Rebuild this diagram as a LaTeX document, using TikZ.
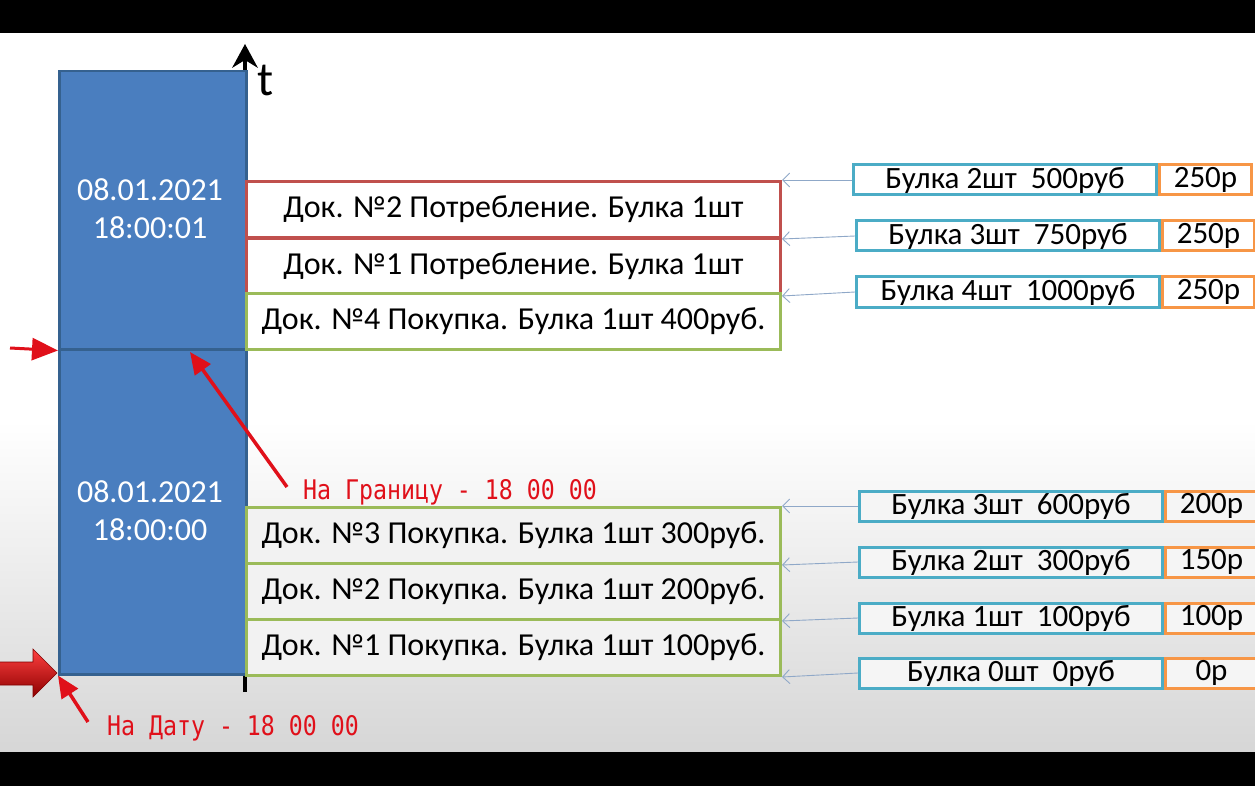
\documentclass[tikz,border=0pt]{standalone}
\usepackage{fontspec}
\setmainfont{Carlito}
\newfontfamily\redmono{DejaVu Sans Mono}
\usetikzlibrary{arrows.meta}
\definecolor{bluefill}{HTML}{4A7EBF}
\definecolor{blueedge}{HTML}{35618F}
\definecolor{redb}{HTML}{C0504D}
\definecolor{greenb}{HTML}{9BBB59}
\definecolor{cyanb}{HTML}{4BACC6}
\definecolor{orangeb}{HTML}{F79646}
\definecolor{connc}{HTML}{8FA8C8}
\definecolor{labred}{HTML}{E0101A}
\tikzset{
  bluecell/.style={draw=blueedge, line width=2.5pt, fill=bluefill, minimum width=187pt, anchor=north west, inner sep=0pt},
  datetext/.style={text=white, font=\fontsize{32}{36}\selectfont, align=center},
  docbox/.style={line width=3pt, minimum width=534pt, minimum height=56pt, anchor=north west, inner sep=0pt, font=\fontsize{32}{36}\selectfont},
  docred/.style={docbox, draw=redb, fill=white},
  docgreen/.style={docbox, draw=greenb, fill=white},
  docgreenlow/.style={docbox, draw=greenb, fill=black!5},
  qbox/.style={draw=cyanb, line width=3pt, minimum width=303pt, minimum height=30pt, anchor=west, inner sep=0pt, font=\fontsize{31}{32}\selectfont},
  pbox/.style={draw=orangeb, line width=3pt, minimum width=92pt, minimum height=30pt, anchor=west, inner sep=0pt, font=\fontsize{31}{32}\selectfont},
  conn/.style={draw=connc, line width=0.9pt, -{Straight Barb[length=7pt,width=14pt]}},
  redarrow/.style={draw=labred, line width=3.5pt, -{Triangle[length=22pt,width=19pt]}},
  redlabel/.style={text=labred, anchor=west, inner sep=0pt, font=\redmono\fontsize{27}{30}\selectfont},
}
\begin{document}
\begin{tikzpicture}[x=1pt,y=-1pt]
\useasboundingbox (0,0) rectangle (1255,786);
\fill[white] (0,0) rectangle (1255,786);
\shade[top color=white, bottom color=black!16] (0,420) rectangle (1255,752);
\fill[black] (0,0) rectangle (1255,33);
\fill[black] (0,752) rectangle (1255,786);

% time axis
\coordinate (axbot) at (245,692);
\coordinate (axtop) at (245,44);
\draw[line width=4.5pt] (axbot) -- (245,58);
\fill[black] (axtop) -- (258,68) -- (245,60) -- (232,68) -- cycle;
\node[font=\fontsize{48}{50}\selectfont, inner sep=0pt] (tlab) at (266,81) {t};

% blue column
\node[bluecell, minimum height=278pt] (upper) at (58,70) {};
\node[bluecell, minimum height=325pt] (lower) at (58,348) {};
\node[datetext] (dt1) at (150,209) {08.01.2021\\[2pt]18:00:01};
\node[datetext] (dt2) at (150,511) {08.01.2021\\[2pt]18:00:00};

% documents
\node[docred] (d1) at (245,180) {Док. №2 Потребление. Булка 1шт};
\node[docred] (d2) at (245,237) {Док. №1 Потребление. Булка 1шт};
\node[docgreen] (d3) at (245,292) {Док. №4 Покупка. Булка 1шт 400руб.};
\node[docgreenlow] (l3) at (245,506) {Док. №3 Покупка. Булка 1шт 300руб.};
\node[docgreenlow] (l2) at (245,562) {Док. №2 Покупка. Булка 1шт 200руб.};
\node[docgreenlow] (l1) at (245,618) {Док. №1 Покупка. Булка 1шт 100руб.};

% balance boxes, upper group
\node[qbox, fill=white] (q1) at (852,180) {Булка 2шт\ \ 500руб};
\node[pbox, fill=white] (p1) at (q1.east) {250р};
\node[qbox, fill=white] (q2) at (855,236) {Булка 3шт\ \ 750руб};
\node[pbox, fill=white] (p2) at (q2.east) {250р};
\node[qbox, fill=white] (q3) at (855,292) {Булка 4шт\ \ 1000руб};
\node[pbox, fill=white] (p3) at (q3.east) {250р};
% lower group
\node[qbox, fill=black!4] (q4) at (858,506) {Булка 3шт\ \ 600руб};
\node[pbox, fill=black!4] (p4) at (q4.east) {200р};
\node[qbox, fill=black!4] (q5) at (858,562) {Булка 2шт\ \ 300руб};
\node[pbox, fill=black!4] (p5) at (q5.east) {150р};
\node[qbox, fill=black!4] (q6) at (858,618) {Булка 1шт\ \ 100руб};
\node[pbox, fill=black!4] (p6) at (q6.east) {100р};
\node[qbox, fill=black!4] (q7) at (858,673) {Булка 0шт\ \ 0руб};
\node[pbox, fill=black!4] (p7) at (q7.east) {0р};

% connectors
\draw[conn] (q1.west) -- (d1.north east);
\draw[conn] (q2.west) -- (d1.south east);
\draw[conn] (q3.west) -- (d2.south east);
\draw[conn] (q4.west) -- (l3.north east);
\draw[conn] (q5.west) -- (l3.south east);
\draw[conn] (q6.west) -- (l2.south east);
\draw[conn] (q7.west) -- (l1.south east);

% red annotations
\coordinate (smallstart) at (10,348);
\draw[draw=labred, line width=3pt, -{Triangle[length=26pt,width=22pt]}] (smallstart) -- (upper.south west);
\node[redlabel] (lab1) at (303,492) {\scalebox{0.86}[1]{На Границу - 18 00 00}};
\node[redlabel] (lab2) at (107,728) {\scalebox{0.86}[1]{На Дату - 18 00 00}};
\coordinate (bnd) at (190,352);
\draw[redarrow] (lab1.west) ++(-16,-5) coordinate (s1) (s1) -- (bnd);
\draw[redarrow] (lab2.west) ++(-19,-6) coordinate (s2) (s2) -- (lower.south west);
\shade[top color=red!75!white, bottom color=red!55!black, draw=red!50!black, line width=0.6pt]
  (-2,662) -- (33,662) -- (33,649) -- (57,673) -- (33,697) -- (33,685) -- (-2,685) -- cycle;
\end{tikzpicture}
\end{document}
